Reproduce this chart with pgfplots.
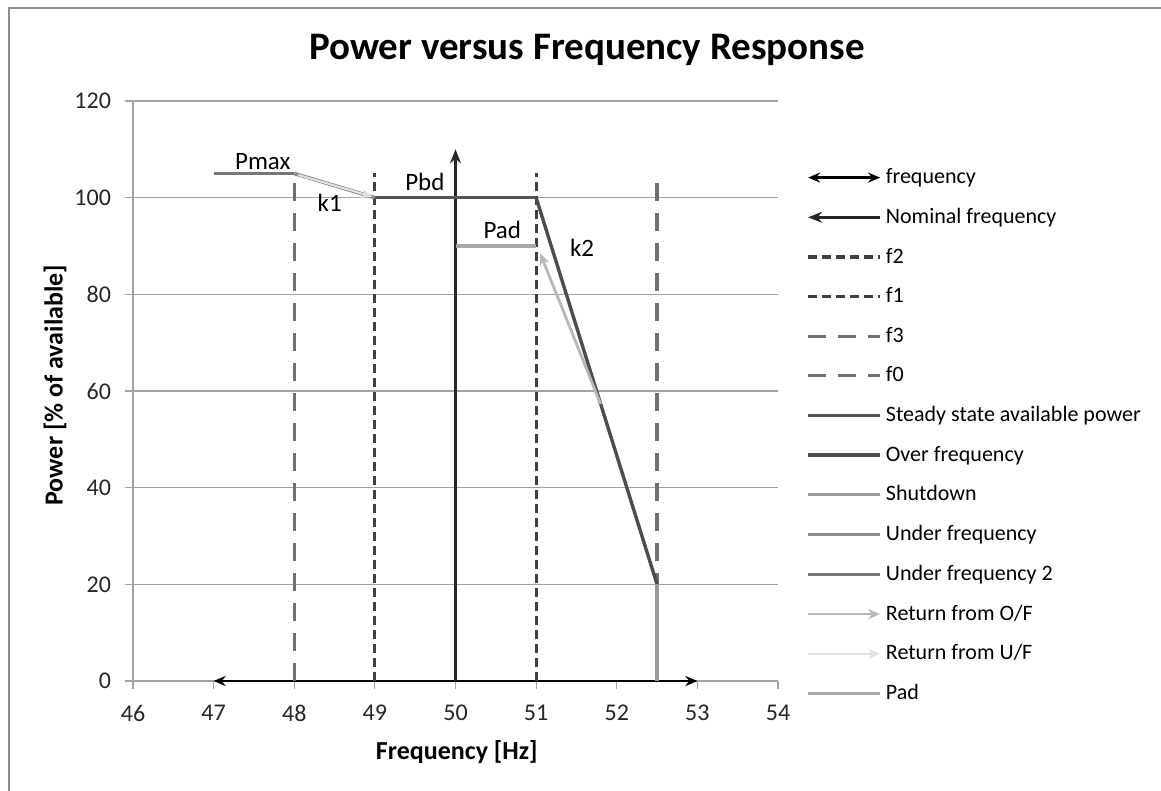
\documentclass[border=0pt]{standalone}
\usepackage{fontspec}
\setmainfont{Carlito}
\usepackage{pgfplots}
\pgfplotsset{compat=1.18}
\usetikzlibrary{arrows.meta}
\definecolor{gridc}{HTML}{A3A3A3}
\definecolor{dashdark}{HTML}{404040}
\definecolor{dashmid}{HTML}{707070}
\definecolor{steady}{HTML}{555555}
\definecolor{overf}{HTML}{4D4D4D}
\definecolor{shut}{HTML}{9A9A9A}
\definecolor{underf}{HTML}{8C8C8C}
\definecolor{underftwo}{HTML}{767676}
\definecolor{retof}{HTML}{B8B8B8}
\definecolor{retuf}{HTML}{E2E2E2}
\definecolor{padc}{HTML}{A8A8A8}
\begin{document}
\begin{tikzpicture}
\path[use as bounding box] (-66.5pt,-55pt) rectangle (514pt,340.5pt);
\draw[gray!90, line width=1.2pt] (-62pt,-55pt) -- (-62pt,336.5pt) -- (514pt,336.5pt);
\begin{axis}[
  scale only axis, width=322.5pt, height=290pt,
  xmin=46, xmax=54, ymin=0, ymax=120,
  xtick={46,47,...,54}, ytick={0,20,...,120},
  axis x line*=bottom, axis y line*=left,
  axis line style={gridc, line width=0.6pt, -},
  ymajorgrids, grid style={gridc, line width=0.6pt},
  tick style={gridc, line width=0.6pt},
  tick align=outside, major tick length=4pt,
  ticklabel style={font=\fontsize{12}{14}\selectfont, text=black!85},
  xticklabel style={yshift=-4.5pt},
  yticklabel style={xshift=-3.5pt},
  /pgf/number format/assume math mode=true,
  xlabel={Frequency [Hz]}, ylabel={Power [\% of available]},
  label style={font=\bfseries\fontsize{13}{15}\selectfont},
  xlabel style={at={(axis description cs:0.502,-0.122)}, anchor=center},
  ylabel style={at={(axis description cs:-0.121,0.51)}, anchor=center},
  clip=false,
  legend style={at={(1.034,0.898)}, anchor=north west, draw=none, fill=none,
    font=\fontsize{11}{13}\selectfont, row sep=6.75pt},
  legend cell align=left,
  legend image code/.code={\draw[#1] (0pt,0pt) -- (36pt,0pt);},
]
\addplot[black, line width=1.3pt, {Stealth[length=6pt,width=5pt]}-{Stealth[length=6pt,width=5pt]}] coordinates {(47,0) (53,0)};
\addlegendentry{frequency}
\addplot[black!85, line width=1.5pt, {Stealth[length=7pt,width=5.5pt]}-] coordinates {(50,110) (50,0)};
\addlegendentry{Nominal frequency}
\addplot[dashdark, line width=1.6pt, dash pattern=on 4.5pt off 2.5pt] coordinates {(49,0) (49,105)};
\addlegendentry{f2}
\addplot[dashdark, line width=1.6pt, dash pattern=on 4.5pt off 2.5pt] coordinates {(51,0) (51,105)};
\addlegendentry{f1}
\addplot[dashmid, line width=1.6pt, dash pattern=on 9pt off 6pt] coordinates {(52.5,0) (52.5,105)};
\addlegendentry{f3}
\addplot[dashmid, line width=1.6pt, dash pattern=on 9pt off 6pt] coordinates {(48,0) (48,105)};
\addlegendentry{f0}
\addplot[steady, line width=1.8pt] coordinates {(49,100) (51,100)};
\addlegendentry{Steady state available power}
\addplot[overf, line width=1.7pt] coordinates {(51,100) (52.5,20)};
\addlegendentry{Over frequency}
\addplot[shut, line width=1.7pt] coordinates {(52.5,20) (52.5,0)};
\addlegendentry{Shutdown}
\addplot[underf, line width=1.8pt] coordinates {(48,105) (49,100)};
\addlegendentry{Under frequency}
\addplot[underftwo, line width=1.7pt] coordinates {(47,105) (48,105)};
\addlegendentry{Under frequency 2}
\addplot[retof, line width=1.4pt, -{Stealth[length=6pt,width=5pt]}] coordinates {(51.8,57.3) (51.05,88.5)};
\addlegendentry{Return from O/F}
\addplot[retuf, line width=1.0pt, -{Stealth[length=6pt,width=5pt]}] coordinates {(48.05,104.7) (48.97,100.2)};
\addlegendentry{Return from U/F}
\addplot[padc, line width=1.7pt] coordinates {(50,90) (51,90)};
\addlegendentry{Pad}
\node[font=\fontsize{12.5}{14}\selectfont] at (axis cs:47.61,107.5) {Pmax};
\node[font=\fontsize{12.5}{14}\selectfont] at (axis cs:48.44,99) {k1};
\node[font=\fontsize{12.5}{14}\selectfont] at (axis cs:49.62,103.3) {Pbd};
\node[font=\fontsize{12.5}{14}\selectfont] at (axis cs:50.58,93.4) {Pad};
\node[font=\fontsize{12.5}{14}\selectfont] at (axis cs:51.57,89.6) {k2};
\end{axis}
\node[font=\bfseries\fontsize{19.5}{23}\selectfont] at (227pt,315.5pt) {Power versus Frequency Response};
\end{tikzpicture}
\end{document}
